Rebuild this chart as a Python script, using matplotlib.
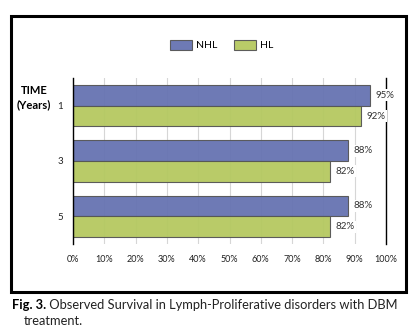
import matplotlib
matplotlib.use('Agg')
import matplotlib.pyplot as plt
from matplotlib.patches import Rectangle
import numpy as np

plt.rc('font', family=['Lato', 'DejaVu Sans'])

years = ['1', '3', '5']
nhl = [95, 88, 88]
hl = [92, 82, 82]
series = ['NHL', 'HL']
xticks = [0, 10, 20, 30, 40, 50, 60, 70, 80, 90, 100]

c_nhl = '#6673b1'
c_hl = '#b5c960'

fig = plt.figure(figsize=(4.18, 3.36), dpi=100)
ax = fig.add_axes([73/418, 1-244/336, 313/418, 166/336])

y = np.arange(len(years))
h = 0.375
b1 = ax.barh(y - h/2, nhl, height=h, color=c_nhl, edgecolor='#555555',
             linewidth=0.8, alpha=0.95, label=series[0], zorder=2)
b2 = ax.barh(y + h/2, hl, height=h, color=c_hl, edgecolor='#555555',
             linewidth=0.8, alpha=0.95, label=series[1], zorder=2)

for bars, vals in ((b1, nhl), (b2, hl)):
    for r, v in zip(bars, vals):
        ax.annotate('{}%'.format(v), (v, r.get_y() + r.get_height()/2),
                    xytext=(4, 0), textcoords='offset points',
                    ha='left', va='center', fontsize=7, color='#333333',
                    bbox=dict(boxstyle='square,pad=0.15', fc='white', ec='none'),
                    zorder=5)

ax.set_xlim(0, 100)
ax.set_ylim(2.5, -0.5)
ax.set_xticks(xticks)
ax.set_xticklabels(['{}%'.format(t) for t in xticks], fontsize=6.5)
ax.set_yticks(y)
ax.set_yticklabels(years, fontsize=7)
ax.tick_params(length=0, colors='#222222')
ax.tick_params(axis='x', pad=8)
ax.tick_params(axis='y', pad=7)
ax.grid(axis='x', color='#d6d6d6', linewidth=0.8, zorder=0)
ax.set_axisbelow(True)
for s in ('top', 'bottom'):
    ax.spines[s].set_visible(False)
ax.spines['left'].set_linewidth(1.0)
ax.spines['right'].set_linewidth(1.0)
ax.spines['right'].set_zorder(1)

fig.text(34/418, 1-98/336, 'TIME\n(Years)', ha='center', va='center',
         fontsize=8, fontweight='bold', linespacing=1.35)

fig.legend(handles=[b1, b2], labels=series, loc='center',
           bbox_to_anchor=(222/418, 1-45/336), ncol=2, frameon=False,
           fontsize=7.5, handlelength=2.1, handleheight=1.2,
           handletextpad=0.4, columnspacing=1.6)

fig.add_artist(Rectangle((11/418, 1-292/336), 395/418, 276/336,
                         transform=fig.transFigure, fill=False,
                         ec='black', lw=2.2))

# caption: bold figure number then plain text right after it
t1 = fig.text(12/418, 1-305/336, 'Fig. 3.', fontsize=9.3, fontweight='bold',
              va='center')
fig.add_artist(plt.Annotation(
    ' Observed Survival in Lymph-Proliferative disorders with DBM',
    xy=(1, 0.5), xycoords=t1, va='center', ha='left', fontsize=9.3,
    color='#222222', annotation_clip=False))
fig.text(24/418, 1-321/336, 'treatment.', fontsize=9.3, va='center',
         color='#222222')

fig.savefig('out.png', dpi=100)
